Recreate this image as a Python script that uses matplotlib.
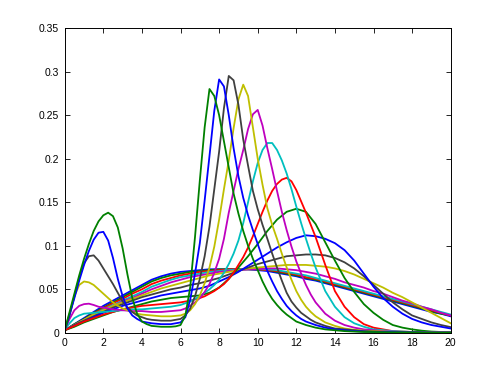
import matplotlib
matplotlib.use("Agg")
import matplotlib.pyplot as plt

plt.rcParams['font.family'] = ['Liberation Sans', 'DejaVu Sans']

# x positions: coarse grid (0 to 20, step 0.5) and a finer grid for the sharp curves
x_coarse = [i * 0.5 for i in range(41)]
x_fine = [i * 0.25 for i in range(53)] + [13.5 + i * 0.5 for i in range(14)]

curve_00 = [0.003, 0.010, 0.017, 0.024, 0.031, 0.037, 0.043, 0.049, 0.055, 0.061, 0.065, 0.068, 0.070, 0.071,
            0.072, 0.073, 0.073, 0.073, 0.073, 0.073, 0.072, 0.071, 0.069, 0.067, 0.065, 0.062, 0.060, 0.057,
            0.054, 0.051, 0.048, 0.045, 0.042, 0.039, 0.036, 0.033, 0.030, 0.027, 0.024, 0.022, 0.019]
curve_01 = [0.003, 0.010, 0.016, 0.023, 0.029, 0.035, 0.041, 0.047, 0.053, 0.059, 0.063, 0.066, 0.068, 0.070,
            0.071, 0.072, 0.073, 0.073, 0.073, 0.073, 0.073, 0.072, 0.070, 0.068, 0.066, 0.063, 0.061, 0.058,
            0.055, 0.052, 0.049, 0.046, 0.043, 0.040, 0.037, 0.034, 0.031, 0.028, 0.025, 0.022, 0.020]
curve_02 = [0.003, 0.009, 0.015, 0.022, 0.028, 0.034, 0.039, 0.045, 0.050, 0.056, 0.060, 0.063, 0.066, 0.068,
            0.070, 0.071, 0.072, 0.073, 0.073, 0.073, 0.073, 0.072, 0.071, 0.069, 0.067, 0.064, 0.062, 0.059,
            0.056, 0.053, 0.050, 0.047, 0.044, 0.041, 0.038, 0.035, 0.032, 0.029, 0.026, 0.023, 0.020]
curve_03 = [0.003, 0.009, 0.015, 0.021, 0.027, 0.032, 0.037, 0.042, 0.047, 0.053, 0.057, 0.061, 0.064, 0.066,
            0.068, 0.070, 0.071, 0.072, 0.073, 0.073, 0.073, 0.073, 0.072, 0.070, 0.068, 0.066, 0.063, 0.060,
            0.057, 0.054, 0.051, 0.048, 0.045, 0.042, 0.039, 0.036, 0.033, 0.030, 0.027, 0.024, 0.021]
curve_04 = [0.003, 0.009, 0.015, 0.020, 0.026, 0.031, 0.036, 0.040, 0.045, 0.050, 0.054, 0.058, 0.061, 0.064,
            0.066, 0.068, 0.070, 0.071, 0.072, 0.073, 0.073, 0.074, 0.074, 0.073, 0.072, 0.070, 0.068, 0.065,
            0.062, 0.058, 0.055, 0.052, 0.048, 0.045, 0.041, 0.037, 0.034, 0.030, 0.027, 0.023, 0.020]
curve_05 = [0.003, 0.009, 0.015, 0.021, 0.026, 0.031, 0.035, 0.039, 0.043, 0.047, 0.051, 0.054, 0.057, 0.060,
            0.063, 0.066, 0.068, 0.070, 0.072, 0.074, 0.075, 0.076, 0.077, 0.078, 0.078, 0.078, 0.077, 0.076,
            0.074, 0.071, 0.067, 0.062, 0.057, 0.052, 0.046, 0.041, 0.035, 0.029, 0.023, 0.017, 0.011]
curve_06 = [0.003, 0.009, 0.014, 0.019, 0.024, 0.029, 0.033, 0.037, 0.041, 0.044, 0.047, 0.050, 0.052, 0.055,
            0.057, 0.060, 0.063, 0.067, 0.071, 0.075, 0.079, 0.082, 0.085, 0.088, 0.089, 0.090, 0.090, 0.089,
            0.086, 0.081, 0.074, 0.065, 0.055, 0.045, 0.035, 0.027, 0.020, 0.016, 0.012, 0.009, 0.0066]
curve_07 = [0.003, 0.008, 0.013, 0.018, 0.023, 0.027, 0.031, 0.034, 0.037, 0.040, 0.043, 0.045, 0.047, 0.049,
            0.051, 0.054, 0.059, 0.064, 0.070, 0.077, 0.084, 0.091, 0.098, 0.104, 0.109, 0.112, 0.111, 0.108,
            0.103, 0.095, 0.083, 0.068, 0.053, 0.040, 0.030, 0.022, 0.016, 0.012, 0.009, 0.007, 0.005]
curve_08 = [0.003, 0.007, 0.012, 0.016, 0.020, 0.024, 0.027, 0.030, 0.033, 0.036, 0.038, 0.040, 0.041, 0.042,
            0.043, 0.046, 0.052, 0.062, 0.075, 0.088, 0.102, 0.117, 0.130, 0.139, 0.1425, 0.139, 0.125, 0.104,
            0.083, 0.063, 0.047, 0.033, 0.023, 0.015, 0.009, 0.006, 0.004, 0.0025, 0.0015, 0.001, 0.001]
# curves below are read on the fine grid
curve_09 = [0.003, 0.0055, 0.008, 0.0105, 0.013, 0.015, 0.017, 0.019, 0.021, 0.0225, 0.024, 0.0255, 0.027,
            0.028, 0.029, 0.030, 0.031, 0.0315, 0.032, 0.0325, 0.033, 0.0335, 0.034, 0.0345, 0.035, 0.036,
            0.037, 0.0385, 0.040, 0.042, 0.045, 0.048, 0.052, 0.056, 0.062, 0.069, 0.078, 0.087, 0.098, 0.111,
            0.125, 0.139, 0.152, 0.163, 0.171, 0.176, 0.178, 0.174, 0.164, 0.151, 0.138, 0.124, 0.110,
            0.078, 0.048, 0.030, 0.018, 0.010, 0.006, 0.004, 0.002, 0.0015, 0.001, 0.001, 0.0008, 0.0006, 0.0005]
curve_10 = [0.004, 0.011, 0.017, 0.020, 0.022, 0.0225, 0.023, 0.0235, 0.024, 0.0245, 0.025, 0.0255, 0.026,
            0.0265, 0.027, 0.027, 0.027, 0.0275, 0.028, 0.0285, 0.029, 0.0295, 0.030, 0.031, 0.032, 0.034,
            0.036, 0.039, 0.042, 0.046, 0.050, 0.055, 0.061, 0.069, 0.079, 0.091, 0.106, 0.126, 0.150, 0.174,
            0.195, 0.210, 0.218, 0.218, 0.210, 0.198, 0.183, 0.165, 0.145, 0.126, 0.108, 0.091, 0.075,
            0.048, 0.030, 0.018, 0.011, 0.007, 0.004, 0.003, 0.002, 0.0015, 0.001, 0.001, 0.0008, 0.0006, 0.0005]
curve_11 = [0.004, 0.016, 0.026, 0.031, 0.033, 0.0335, 0.032, 0.030, 0.029, 0.028, 0.027, 0.0265, 0.026,
            0.0255, 0.025, 0.025, 0.025, 0.0245, 0.024, 0.024, 0.024, 0.0245, 0.025, 0.0255, 0.026, 0.028,
            0.031, 0.035, 0.040, 0.047, 0.056, 0.069, 0.085, 0.108, 0.138, 0.163, 0.188, 0.210, 0.234, 0.251,
            0.256, 0.238, 0.212, 0.188, 0.163, 0.139, 0.118, 0.099, 0.082, 0.068, 0.055, 0.044, 0.035,
            0.022, 0.014, 0.009, 0.006, 0.004, 0.003, 0.002, 0.0015, 0.001, 0.001, 0.0008, 0.0006, 0.0005, 0.0004]
curve_12 = [0.003, 0.022, 0.042, 0.055, 0.059, 0.058, 0.055, 0.050, 0.045, 0.040, 0.035, 0.031, 0.028,
            0.026, 0.024, 0.022, 0.021, 0.0205, 0.020, 0.0195, 0.019, 0.019, 0.019, 0.0195, 0.020, 0.022,
            0.026, 0.033, 0.043, 0.057, 0.075, 0.099, 0.130, 0.165, 0.198, 0.235, 0.268, 0.285, 0.272, 0.236,
            0.200, 0.170, 0.143, 0.124, 0.108, 0.091, 0.075, 0.061, 0.048, 0.038, 0.030, 0.024, 0.019,
            0.012, 0.008, 0.005, 0.0035, 0.0025, 0.002, 0.0015, 0.001, 0.001, 0.0008, 0.0006, 0.0005, 0.0004,
            0.0003]
curve_13 = [0.003, 0.020, 0.042, 0.063, 0.080, 0.088, 0.089, 0.083, 0.074, 0.065, 0.056, 0.046, 0.036,
            0.029, 0.024, 0.020, 0.018, 0.016, 0.015, 0.0145, 0.014, 0.014, 0.014, 0.015, 0.016, 0.020,
            0.028, 0.042, 0.062, 0.088, 0.122, 0.165, 0.208, 0.258, 0.295, 0.290, 0.262, 0.222, 0.192, 0.163,
            0.142, 0.124, 0.108, 0.091, 0.075, 0.060, 0.046, 0.036, 0.029, 0.023, 0.019, 0.015, 0.012,
            0.008, 0.005, 0.004, 0.003, 0.002, 0.0015, 0.001, 0.001, 0.0008, 0.0006, 0.0005, 0.0004, 0.0003,
            0.0003]
curve_14 = [0.003, 0.021, 0.040, 0.060, 0.078, 0.094, 0.107, 0.115, 0.116, 0.106, 0.086, 0.062, 0.042,
            0.028, 0.020, 0.016, 0.013, 0.012, 0.011, 0.0105, 0.010, 0.010, 0.010, 0.011, 0.012, 0.018,
            0.038, 0.068, 0.103, 0.152, 0.203, 0.255, 0.291, 0.283, 0.250, 0.212, 0.180, 0.155, 0.135, 0.118,
            0.102, 0.086, 0.071, 0.059, 0.048, 0.039, 0.031, 0.025, 0.020, 0.016, 0.013, 0.011, 0.009,
            0.006, 0.004, 0.003, 0.002, 0.0015, 0.001, 0.001, 0.0008, 0.0006, 0.0005, 0.0004, 0.0003, 0.0003,
            0.0002]
curve_15 = [0.003, 0.024, 0.045, 0.066, 0.085, 0.102, 0.117, 0.128, 0.135, 0.138, 0.134, 0.121, 0.097,
            0.067, 0.040, 0.022, 0.013, 0.010, 0.008, 0.0075, 0.007, 0.007, 0.007, 0.0075, 0.009, 0.020,
            0.052, 0.110, 0.175, 0.236, 0.280, 0.272, 0.250, 0.220, 0.190, 0.160, 0.137, 0.117, 0.100, 0.085,
            0.072, 0.059, 0.048, 0.039, 0.032, 0.026, 0.021, 0.017, 0.013, 0.011, 0.009, 0.0075, 0.006,
            0.004, 0.003, 0.002, 0.0015, 0.001, 0.001, 0.0008, 0.0006, 0.0005, 0.0004, 0.0003, 0.0003, 0.0002,
            0.0002]

curves = [curve_00, curve_01, curve_02, curve_03, curve_04, curve_05, curve_06, curve_07,
          curve_08, curve_09, curve_10, curve_11, curve_12, curve_13, curve_14, curve_15]

x_ticks = [0, 2, 4, 6, 8, 10, 12, 14, 16, 18, 20]
y_ticks = [0, 0.05, 0.1, 0.15, 0.2, 0.25, 0.3, 0.35]
y_tick_labels = ['0', '0.05', '0.1', '0.15', '0.2', '0.25', '0.3', '0.35']

color_order = [(0, 0, 1), (0, 0.5, 0), (1, 0, 0), (0, 0.75, 0.75),
               (0.75, 0, 0.75), (0.75, 0.75, 0), (0.25, 0.25, 0.25)]

fig = plt.figure(figsize=(4.98, 3.74), dpi=100)
ax = fig.add_axes([0.13, 0.11, 0.775, 0.815])
for i, ys in enumerate(curves):
    xs = x_coarse if len(ys) == len(x_coarse) else x_fine
    ax.plot(xs, ys, color=color_order[i % 7], linewidth=1.3)

ax.set_xlim(0, 20)
ax.set_ylim(0, 0.35)
ax.set_xticks(x_ticks)
ax.set_xticklabels([str(t) for t in x_ticks])
ax.set_yticks(y_ticks)
ax.set_yticklabels(y_tick_labels)
ax.tick_params(direction='in', top=True, right=True, length=3.5, width=0.6,
               labelsize=7.5, pad=4)
for s in ax.spines.values():
    s.set_linewidth(0.7)

fig.savefig('out.png', dpi=100)
